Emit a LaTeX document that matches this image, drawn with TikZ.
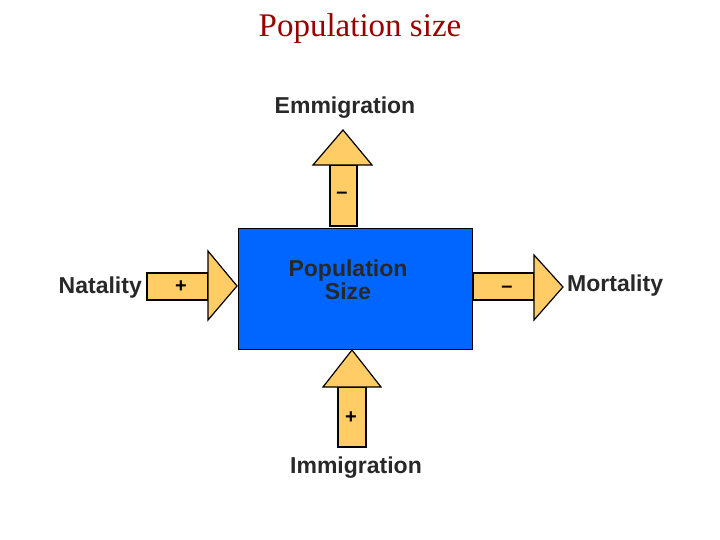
\documentclass[tikz,border=0pt]{standalone}
\usepackage{fontspec}
\setmainfont{Liberation Serif}
\newfontfamily\labelfont{Liberation Sans}
\usetikzlibrary{positioning}
\definecolor{popblue}{RGB}{0,102,255}
\definecolor{flowfill}{RGB}{255,204,102}
\definecolor{titlered}{RGB}{153,0,0}
\definecolor{labelgray}{RGB}{40,40,40}

\begin{document}
\begin{tikzpicture}[x=1pt, y=-1pt,
  flow/.style={draw=black, fill=flowfill, line width=1.2pt, line join=miter},
  sign/.style={font=\labelfont\bfseries\fontsize{20}{20}\selectfont, text=black, inner sep=0pt},
  flowlabel/.style={font=\labelfont\bfseries\fontsize{23}{23}\selectfont, text=labelgray, inner sep=0pt}]
\useasboundingbox (0,0) rectangle (720,540);
\node[font=\fontsize{33}{36}\selectfont, text=titlered] (title) at (360,29) {Population size};
%% population box
\node[draw=black, line width=1.2pt, fill=popblue, minimum width=234pt, minimum height=121pt,
  inner sep=0pt, anchor=north west] (pop) at (238,228) {};
\node[flowlabel, align=center, font=\labelfont\bfseries\fontsize{23}{23}\selectfont] (poptext) at (348,280) {Population\\Size};
%% emmigration (up)
\draw[flow] (330,226) rectangle (357,165);
\draw[flow] (313,165) -- (343,130) -- (372,165) -- cycle;
\node[sign] (emsign) at (342,195) {\textendash};
\node[flowlabel] (emmi) at (345,108) {Emmigration};
%% natality (left)
\draw[flow] (147,273) rectangle (208,300);
\draw[flow] (208,251) -- (237,286) -- (208,320) -- cycle;
\node[sign] (natsign) at (181,287) {+};
\node[flowlabel, anchor=east] (nat) at (142,288) {Natality};
%% mortality (right)
\draw[flow] (473,273) rectangle (534,300);
\draw[flow] (534,255) -- (563,287) -- (534,320) -- cycle;
\node[sign] (morsign) at (507,289) {\textendash};
\node[flowlabel, anchor=west] (mor) at (567,286) {Mortality};
%% immigration (up from below)
\draw[flow] (338,447) rectangle (366,387);
\draw[flow] (323,387) -- (352,350) -- (381,387) -- cycle;
\node[sign] (imsign) at (351,418) {+};
\node[flowlabel] (immi) at (356,468) {Immigration};
\end{tikzpicture}
\end{document}
